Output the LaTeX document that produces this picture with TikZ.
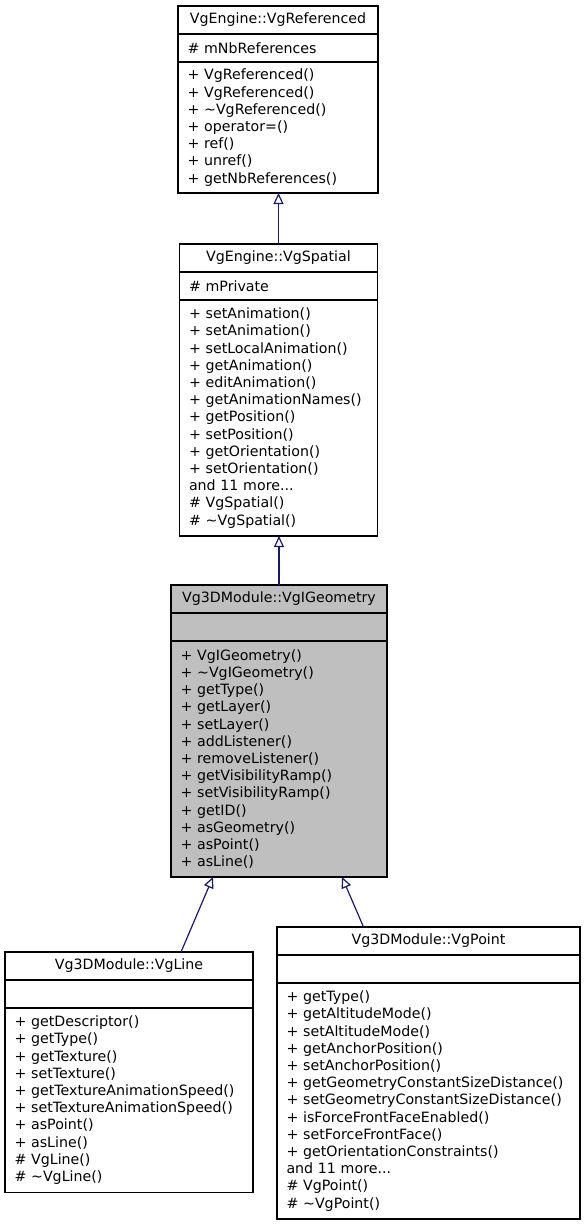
\documentclass[tikz,border=0pt]{standalone}
\usepackage{fontspec}
\setmainfont{DejaVu Sans}
\usetikzlibrary{positioning,arrows.meta}
\definecolor{edgeblue}{HTML}{191970}
\definecolor{focusgray}{HTML}{BFBFBF}
\tikzset{
  part/.style={draw=black, line width=1.2pt, fill=white, inner xsep=9.5pt,
    inner ysep=0pt, outer sep=0pt, anchor=north,
    font=\fontsize{14.2}{17.2}\selectfont},
  head/.style={part, align=center, minimum height=28pt},
  attrs/.style={part, align=left, minimum height=28pt},
  ops/.style={part, align=left},
  inherit/.style={draw=edgeblue, line width=1.2pt,
    -{Triangle[open, length=11pt, width=10pt]}}
}
\begin{document}
\begin{tikzpicture}[x=1pt, y=-1pt]
        \useasboundingbox (0,0) rectangle (584,1224);
        % Define node positions
        \node[head, text width=181pt] (ref-head) at (278,6) {VgEngine::VgReferenced};
        \node[attrs, text width=181pt, below=0pt of ref-head] (ref-attrs) {\# mNbReferences};
        \node[ops, text width=181pt, minimum height=131pt, below=0pt of ref-attrs] (ref-ops)
        {+ VgReferenced()\\+ VgReferenced()\\+ \textasciitilde VgReferenced()\\+ operator=()\\
        + ref()\\+ unref()\\+ getNbReferences()};
        \node[head, text width=179pt] (spat-head) at (278.5,244) {VgEngine::VgSpatial};
        \node[attrs, text width=179pt, below=0pt of spat-head] (spat-attrs) {\# mPrivate};
        \node[ops, text width=179pt, minimum height=236pt, below=0pt of spat-attrs] (spat-ops)
        {+ setAnimation()\\+ setAnimation()\\+ setLocalAnimation()\\+ getAnimation()\\
        + editAnimation()\\+ getAnimationNames()\\+ getPosition()\\+ setPosition()\\
        + getOrientation()\\+ setOrientation()\\and 11 more...\\\# VgSpatial()\\
        \# \textasciitilde VgSpatial()};
        \node[head, fill=focusgray, text width=197pt] (geo-head) at (279,585) {Vg3DModule::VgIGeometry};
        \node[attrs, fill=focusgray, text width=197pt, below=0pt of geo-head] (geo-attrs) {};
        \node[ops, fill=focusgray, text width=197pt, minimum height=236pt, below=0pt of geo-attrs] (geo-ops)
        {+ VgIGeometry()\\+ \textasciitilde VgIGeometry()\\+ getType()\\+ getLayer()\\
        + setLayer()\\+ addListener()\\+ removeListener()\\+ getVisibilityRamp()\\
        + setVisibilityRamp()\\+ getID()\\+ asGeometry()\\+ asPoint()\\+ asLine()};
        \node[head, text width=229pt] (line-head) at (129,952) {Vg3DModule::VgLine};
        \node[attrs, text width=229pt, below=0pt of line-head] (line-attrs) {};
        \node[ops, text width=229pt, minimum height=184.4pt, below=0pt of line-attrs] (line-ops)
        {+ getDescriptor()\\+ getType()\\+ getTexture()\\+ setTexture()\\
        + getTextureAnimationSpeed()\\+ setTextureAnimationSpeed()\\+ asPoint()\\
        + asLine()\\\# VgLine()\\\# \textasciitilde VgLine()};
        \node[head, text width=284pt] (pt-head) at (428.5,927) {Vg3DModule::VgPoint};
        \node[attrs, text width=284pt, below=0pt of pt-head] (pt-attrs) {};
        \node[ops, text width=284pt, minimum height=236pt, below=0pt of pt-attrs] (pt-ops)
        {+ getType()\\+ getAltitudeMode()\\+ setAltitudeMode()\\+ getAnchorPosition()\\
        + setAnchorPosition()\\+ getGeometryConstantSizeDistance()\\
        + setGeometryConstantSizeDistance()\\+ isForceFrontFaceEnabled()\\
        + setForceFrontFace()\\+ getOrientationConstraints()\\and 11 more...\\
        \# VgPoint()\\\# \textasciitilde VgPoint()};
        % Draw arrows
        \draw[inherit] (spat-head.north) -- (spat-head.north |- ref-ops.south);
        \draw[inherit] (geo-head.north) -- (geo-head.north |- spat-ops.south);
        \draw[inherit] ([xshift=52pt]line-head.north) -- ([xshift=-66pt]geo-ops.south);
        \draw[inherit] ([xshift=-65pt]pt-head.north) -- ([xshift=63pt]geo-ops.south);
    \end{tikzpicture}
\end{document}
